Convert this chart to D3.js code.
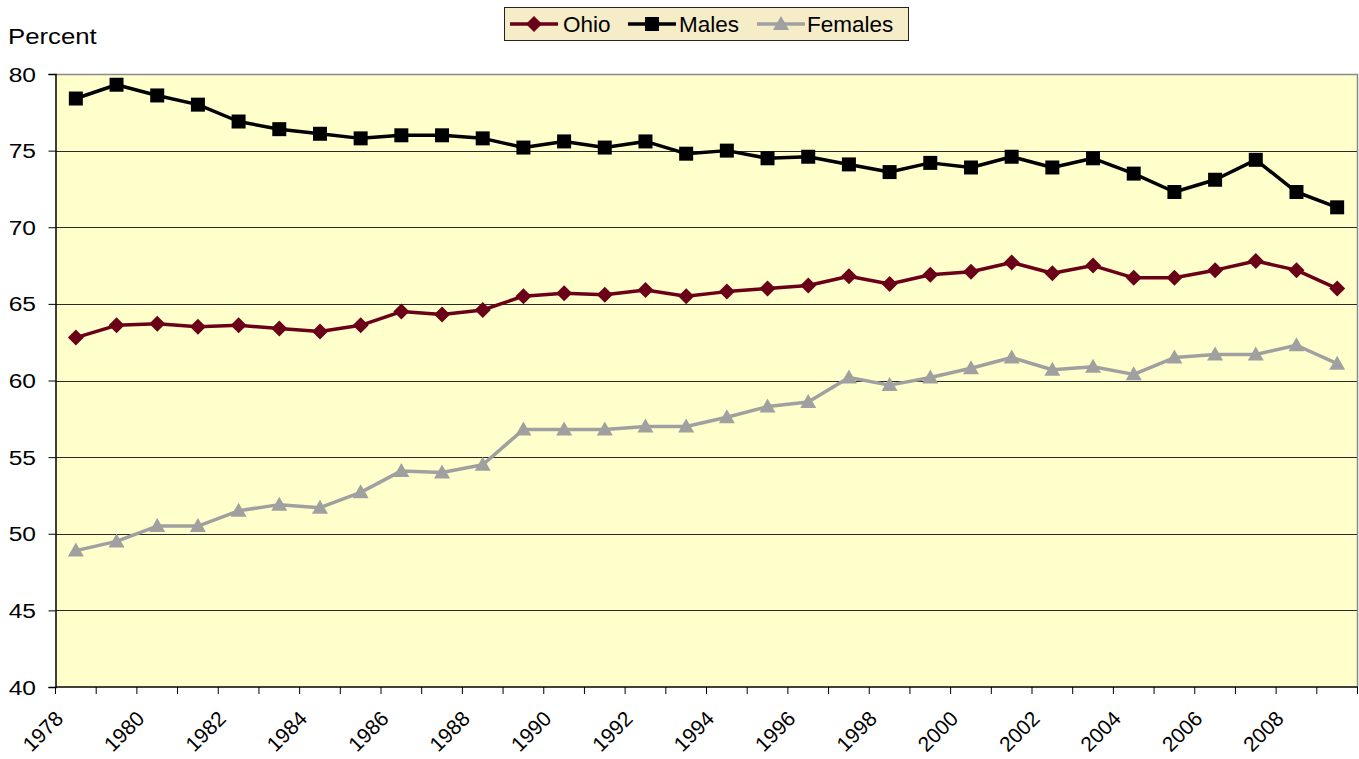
<!DOCTYPE html>
<html lang="en">
<head>
<meta charset="utf-8" />
<title>Ohio labor force participation</title>
<script src="https://cdn.jsdelivr.net/npm/d3@7/dist/d3.min.js"></script>
<style>
  body { margin: 0; background: #fff; font-family: Arial, "Liberation Sans", sans-serif; }
  svg { display: block; }
  .tick-label { font-size: 21px; fill: #000; }
</style>
</head>
<body>
<svg id="chart" width="1359" height="759"></svg>
<script>
const years = d3.range(1978, 2010);
const ohio = [62.8,63.6,63.7,63.5,63.6,63.4,63.2,63.6,64.5,64.3,64.6,65.5,65.7,65.6,65.9,65.5,
              65.8,66.0,66.2,66.8,66.3,66.9,67.1,67.7,67.0,67.5,66.7,66.7,67.2,67.8,67.2,66.0];
const males = [78.4,79.3,78.6,78.0,76.9,76.4,76.1,75.8,76.0,76.0,75.8,75.2,75.6,75.2,75.6,74.8,
               75.0,74.5,74.6,74.1,73.6,74.2,73.9,74.6,73.9,74.5,73.5,72.3,73.1,74.4,72.3,71.3];
const females = [48.9,49.5,50.5,50.5,51.5,51.9,51.7,52.7,54.1,54.0,54.5,56.8,56.8,56.8,57.0,57.0,
                 57.6,58.3,58.6,60.2,59.7,60.2,60.8,61.5,60.7,60.9,60.4,61.5,61.7,61.7,62.3,61.1];
const yTicks = [40,45,50,55,60,65,70,75,80];

const series = [
  {name:'Ohio', values:ohio, color:'#6B0019', marker:'diamond'},
  {name:'Males', values:males, color:'#000000', marker:'square'},
  {name:'Females', values:females, color:'#A0A0A0', marker:'triangle'}
];

const svg = d3.select('#chart');
const L = 55.5, R = 1357.5, T = 74, B = 687;
const stretch = 1.17;   // the original text looks a bit wide

const x = d3.scaleBand().domain(years).range([L, R]);
const y = d3.scaleLinear().domain([40, 80]).range([B, T]);

// plot background
svg.append('rect').attr('x', L).attr('y', T).attr('width', R - L).attr('height', B - T)
  .attr('fill', '#FFFFCC');

// gridlines
svg.append('g').selectAll('line').data(yTicks.filter(v => v > 40 && v < 80)).join('line')
  .attr('x1', L).attr('x2', R)
  .attr('y1', d => Math.round(y(d)) + 0.5).attr('y2', d => Math.round(y(d)) + 0.5)
  .attr('stroke', '#2a2a2a').attr('stroke-width', 1);

// plot border (top/right gray)
svg.append('path').attr('d', `M${L},${T + 0.5}H${R}V${B}`)
  .attr('fill', 'none').attr('stroke', '#8a8a8a').attr('stroke-width', 1.5);

// y axis
const yAxis = svg.append('g').attr('transform', `translate(${L},0)`)
  .call(d3.axisLeft(y).tickValues(yTicks).tickSize(7).tickFormat(d3.format('d')));
yAxis.select('.domain').attr('stroke', '#000').attr('stroke-width', 1.5);
yAxis.selectAll('.tick line').attr('stroke', '#000');
yAxis.selectAll('.tick text').remove();
svg.append('g').selectAll('text').data(yTicks).join('text')
  .attr('class', 'tick-label').attr('font-size', 20.5)
  .attr('text-anchor', 'end').attr('dy', '0.36em')
  .attr('transform', d => `translate(36,${y(d)}) scale(${stretch},1)`)
  .text(d => d);

svg.append('text').attr('transform', `translate(8,44) scale(${stretch},1)`)
  .attr('font-size', 22).text('Percent');

// x axis: ticks at category boundaries
const bounds = d3.range(years.length + 1).map(i => L + i * x.bandwidth());
svg.append('line').attr('x1', L).attr('x2', R).attr('y1', B).attr('y2', B)
  .attr('stroke', '#000').attr('stroke-width', 1.5);
svg.append('g').selectAll('line').data(bounds).join('line')
  .attr('x1', d => d).attr('x2', d => d).attr('y1', B).attr('y2', B + 7)
  .attr('stroke', '#000');
svg.append('g').selectAll('text').data(years.filter((d, i) => i % 2 === 0)).join('text')
  .attr('class', 'tick-label')
  .attr('text-anchor', 'end')
  .attr('transform', d => `translate(${x(d) + 9},${B + 33}) rotate(-45)`)
  .text(d => d);

// marker shapes
function markerPath(type) {
  if (type === 'diamond') return 'M0,-8L8,0L0,8L-8,0Z';
  if (type === 'square') return 'M-7,-7H7V7H-7Z';
  return 'M0,-8L8,6H-8Z';
}

const line = d3.line().x((d, i) => x(years[i]) + x.bandwidth() / 2).y(d => y(d));

series.forEach(s => {
  const g = svg.append('g');
  g.append('path').datum(s.values).attr('d', line)
    .attr('fill', 'none').attr('stroke', s.color).attr('stroke-width', 3.5)
    .attr('stroke-linejoin', 'round');
  g.selectAll('path.m').data(s.values).join('path').attr('class', 'm')
    .attr('d', markerPath(s.marker))
    .attr('transform', (d, i) => `translate(${x(years[i]) + x.bandwidth() / 2},${y(d)})`)
    .attr('fill', s.color);
});

// legend
const lg = svg.append('g').attr('transform', 'translate(504,7)');
lg.append('rect').attr('x', 0.5).attr('y', 0.5).attr('width', 404).attr('height', 33)
  .attr('fill', '#F5ECC8').attr('stroke', '#222').attr('stroke-width', 1);
const legendPos = [[6, 59], [124, 175], [253, 303]];
series.forEach((s, i) => {
  const [lx, tx] = legendPos[i];
  const gi = lg.append('g');
  gi.append('line').attr('x1', lx).attr('x2', lx + 48).attr('y1', 17).attr('y2', 17)
    .attr('stroke', s.color).attr('stroke-width', 3.5);
  gi.append('path').attr('d', markerPath(s.marker))
    .attr('transform', `translate(${lx + 24},17)`).attr('fill', s.color);
  gi.append('text').attr('x', tx).attr('y', 25).attr('font-size', 22.5).text(s.name);
});
</script>
</body>
</html>
